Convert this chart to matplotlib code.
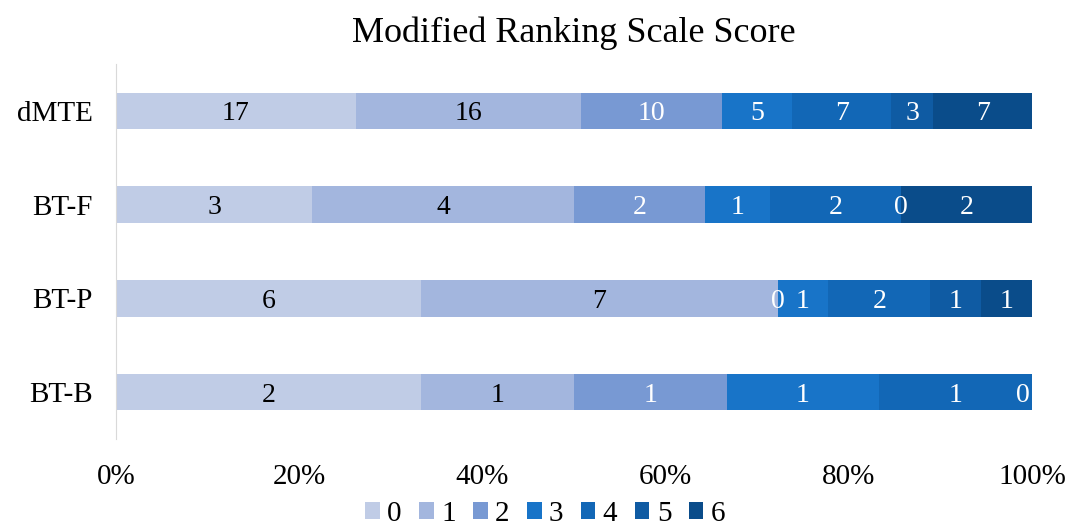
import numpy as np
import matplotlib
matplotlib.use("Agg")
import matplotlib.pyplot as plt

plt.rcParams['font.family'] = ['Liberation Serif', 'DejaVu Serif']

# data (top to bottom as in the chart)
groups = ['dMTE', 'BT-F', 'BT-P', 'BT-B']
scores = ['0', '1', '2', '3', '4', '5', '6']
counts = {
    'dMTE': [17, 16, 10, 5, 7, 3, 7],
    'BT-F': [3, 4, 2, 1, 2, 0, 2],
    'BT-P': [6, 7, 0, 1, 2, 1, 1],
    'BT-B': [2, 1, 1, 1, 1, 0, np.nan],
}
colors = ['#C0CCE6', '#A3B6DE', '#7899D3', '#1874C8', '#1267B6', '#0F5BA3', '#0A4C8A']
label_colors = ['black', 'black', 'white', 'white', 'white', 'white', 'white']

fig = plt.figure(figsize=(10.69, 5.30), dpi=100)
ax = fig.add_axes([0.1085, 0.1717, 0.8569, 0.7075])

ypos = np.arange(len(groups))[::-1]
data = np.array([counts[g] for g in groups], dtype=float)
totals = np.nansum(data, axis=1)
shares = np.nan_to_num(data) / totals[:, None]
left = np.zeros(len(groups))

for j, s in enumerate(scores):
    ax.barh(ypos, shares[:, j], left=left, height=0.39, color=colors[j], label=s)
    for i in range(len(groups)):
        if np.isnan(data[i, j]):
            continue
        xc = left[i] + shares[i, j] / 2
        if data[i, j] == 0 and left[i] >= 0.999:
            xc = 0.99
        ax.text(xc, ypos[i], f"{int(data[i, j])}", ha='center', va='center_baseline',
                color=label_colors[j], fontsize=20)
    left += shares[:, j]

ax.set_xlim(0, 1)
ax.set_ylim(-0.5, len(groups) - 0.5)
ax.set_yticks(ypos)
ax.set_yticklabels(groups, fontsize=21)
ax.set_xticks(np.linspace(0, 1, 6))
ax.set_xticklabels([f"{int(v)}%" for v in np.linspace(0, 100, 6)], fontsize=21)
ax.tick_params(axis='both', length=0)
ax.tick_params(axis='x', pad=18)
ax.tick_params(axis='y', pad=17)
for side in ['top', 'right', 'bottom']:
    ax.spines[side].set_visible(False)
ax.spines['left'].set_color('#D9D9D9')

ax.set_title('Modified Ranking Scale Score', fontsize=26, pad=16)

fig.legend(loc='lower center', bbox_to_anchor=(0.51, 0.0), ncol=7, frameon=False,
           fontsize=21, handlelength=0.5, handleheight=0.5, handletextpad=0.25,
           columnspacing=0.6, borderpad=0.05, borderaxespad=0.05)

fig.savefig('out.png', dpi=100)
